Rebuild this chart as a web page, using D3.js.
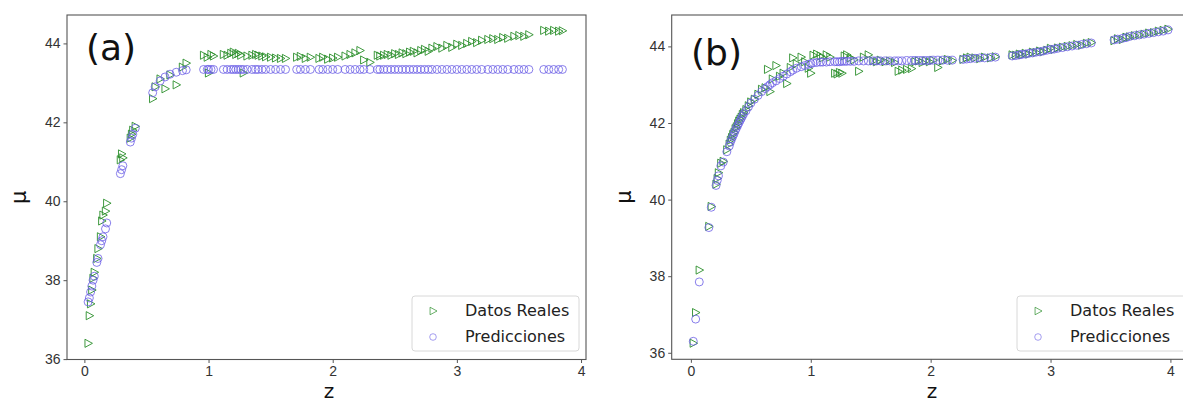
<!DOCTYPE html>
<html>
<head>
<meta charset="utf-8">
<script src="https://cdn.jsdelivr.net/npm/d3@7"></script>
<style>
  html, body { margin: 0; padding: 0; background: #fff; }
  svg { display: block; font-family: "DejaVu Sans", sans-serif; }
  .tick text { fill: #333; font-size: 14px; }
  .tick line { stroke: #555; }
</style>
</head>
<body>
<svg id="chart" width="1183" height="405"></svg>
<script>
// ---- Panel (a): redshift, observed distance modulus, model prediction ----
const zA = [
  0.03, 0.04, 0.05, 0.06, 0.07, 0.08, 0.10, 0.11, 0.13, 0.14, 0.15, 0.17, 0.18,
  0.29, 0.30, 0.31, 0.37, 0.38, 0.39, 0.41,
  0.55, 0.57, 0.61, 0.65, 0.69, 0.74, 0.79, 0.82,
  0.96, 0.99, 1.00, 1.02, 1.04,
  1.12, 1.15, 1.18, 1.20, 1.22, 1.24, 1.26, 1.28,
  1.31, 1.35, 1.38, 1.40, 1.43, 1.46, 1.50, 1.54, 1.58, 1.62,
  1.71, 1.74, 1.78, 1.82,
  1.89, 1.92, 1.96, 2.00, 2.04,
  2.10, 2.14, 2.18, 2.22, 2.25, 2.30,
  2.36, 2.38, 2.41, 2.44, 2.47, 2.50, 2.53, 2.56, 2.59, 2.62, 2.65, 2.68, 2.71, 2.74, 2.77, 2.80,
  2.84, 2.88, 2.92, 2.96, 3.00, 3.04, 3.08, 3.12, 3.16, 3.20,
  3.25, 3.29, 3.33, 3.37, 3.41, 3.46, 3.50, 3.54, 3.58,
  3.70, 3.74, 3.78, 3.82, 3.85
];
const realA = [
  36.40, 37.10, 37.40, 37.75, 38.05, 38.20, 38.55, 38.80, 39.10, 39.50, 39.65, 39.75, 39.95,
  41.05, 41.20, 41.10, 41.60, 41.70, 41.80, 41.90,
  42.60, 42.90, 43.10, 42.85, 43.20, 42.95, 43.40, 43.50,
  43.70, 43.65, 43.25, 43.72, 43.68,
  43.72, 43.70, 43.75, 43.78, 43.72, 43.75, 43.70, 43.25,
  43.68, 43.70, 43.72, 43.70, 43.68, 43.66, 43.65, 43.63, 43.62, 43.62,
  43.65, 43.67, 43.62, 43.65,
  43.62, 43.65, 43.60, 43.63, 43.65,
  43.68, 43.72, 43.76, 43.82, 43.58, 43.52,
  43.70, 43.68, 43.70, 43.72, 43.70, 43.74, 43.72, 43.76, 43.74, 43.78, 43.80, 43.76, 43.82, 43.85, 43.80, 43.88,
  43.92, 43.88, 43.95, 43.90, 43.98, 43.95, 44.00, 44.05, 44.02, 44.08,
  44.10, 44.12, 44.10, 44.15, 44.13, 44.18, 44.20, 44.18, 44.22,
  44.33, 44.31, 44.33, 44.31, 44.32
];
const predA = [
  37.45, 37.55, 37.70, 37.85, 38.00, 38.10, 38.45, 38.55, 38.90, 39.00, 39.10, 39.30, 39.45,
  40.70, 40.80, 40.90, 41.50, 41.60, 41.70, 41.85,
  42.75, 42.90, 43.05, 43.15, 43.22, 43.27, 43.31, 43.33,
  43.34, 43.34, 43.34, 43.34, 43.34,
  43.34, 43.34, 43.34, 43.34, 43.34, 43.34, 43.34, 43.34,
  43.34, 43.34, 43.34, 43.34, 43.34, 43.34, 43.34, 43.34, 43.34, 43.34,
  43.34, 43.34, 43.34, 43.34,
  43.34, 43.34, 43.34, 43.34, 43.34,
  43.34, 43.34, 43.34, 43.34, 43.34, 43.34,
  43.34, 43.34, 43.34, 43.34, 43.34, 43.34, 43.34, 43.34, 43.34, 43.34, 43.34, 43.34, 43.34, 43.34, 43.34, 43.34,
  43.34, 43.34, 43.34, 43.34, 43.34, 43.34, 43.34, 43.34, 43.34, 43.34,
  43.34, 43.34, 43.34, 43.34, 43.34, 43.34, 43.34, 43.34, 43.34,
  43.34, 43.34, 43.34, 43.34, 43.34
];

// ---- Panel (b) ----
const zB = [
  0.02, 0.04, 0.07, 0.15, 0.17,
  0.21, 0.22, 0.23, 0.25, 0.27,
  0.30, 0.32, 0.33, 0.34, 0.35, 0.36, 0.37, 0.38, 0.39, 0.40, 0.41, 0.42, 0.43, 0.44,
  0.46, 0.48, 0.50, 0.53, 0.56, 0.59, 0.62,
  0.64, 0.66, 0.68, 0.71, 0.74, 0.77, 0.80, 0.83, 0.85, 0.88,
  0.92, 0.95, 0.98, 1.00, 1.02, 1.05, 1.08,
  1.10, 1.13, 1.16, 1.20, 1.22, 1.24, 1.26, 1.28, 1.30, 1.33,
  1.36, 1.40, 1.44, 1.48, 1.52, 1.55, 1.58, 1.62, 1.66, 1.70,
  1.73, 1.76, 1.80, 1.84, 1.87, 1.90, 1.93, 1.96, 1.99, 2.02,
  2.06, 2.10, 2.14, 2.18,
  2.27, 2.30, 2.33, 2.37, 2.41, 2.45, 2.50, 2.54,
  2.68, 2.71, 2.74, 2.76, 2.79, 2.82, 2.85, 2.88, 2.91, 2.94,
  2.97, 3.00, 3.03, 3.06, 3.10, 3.14, 3.18, 3.22, 3.26, 3.30, 3.34,
  3.53, 3.56, 3.60, 3.63, 3.66, 3.70, 3.74, 3.78, 3.82, 3.86, 3.90, 3.94, 3.98
];
const realB = [
  36.25, 37.05, 38.16, 39.30, 39.82,
  40.40, 40.55, 40.70, 40.95, 41.00,
  41.30, 41.45, 41.55, 41.62, 41.70, 41.75, 41.85, 41.90, 41.98, 42.05, 42.10, 42.15, 42.22, 42.27,
  42.35, 42.45, 42.55, 42.62, 42.75, 42.88, 42.92,
  43.40, 42.82, 43.15, 43.50, 43.22, 43.30, 43.03, 43.45, 43.70, 43.55,
  43.72, 43.60, 43.43, 43.30, 43.77, 43.80, 43.75,
  43.70, 43.78, 43.72, 43.30, 43.28, 43.32, 43.30, 43.75, 43.78, 43.70,
  43.65, 43.35, 43.72, 43.78, 43.62, 43.60, 43.64, 43.60, 43.62, 43.58,
  43.35, 43.38, 43.40, 43.42, 43.60, 43.62, 43.58, 43.62, 43.60, 43.64,
  43.45, 43.62, 43.66, 43.63,
  43.66, 43.70, 43.72, 43.70, 43.68, 43.72, 43.70, 43.73,
  43.78, 43.77, 43.80, 43.78, 43.82, 43.80, 43.85, 43.84, 43.88, 43.86,
  43.90, 43.95, 43.92, 43.96, 43.98, 44.00, 44.02, 44.05, 44.03, 44.08, 44.10,
  44.15, 44.20, 44.18, 44.24, 44.25, 44.28, 44.30, 44.32, 44.35, 44.36, 44.40, 44.42, 44.45
];
const predB = [
  36.30, 36.88, 37.85, 39.27, 39.80,
  40.37, 40.50, 40.62, 40.88, 40.98,
  41.25, 41.40, 41.50, 41.58, 41.65, 41.72, 41.80, 41.87, 41.93, 42.00, 42.06, 42.12, 42.18, 42.24,
  42.32, 42.42, 42.52, 42.62, 42.72, 42.82, 42.90,
  42.95, 43.00, 43.05, 43.10, 43.16, 43.22, 43.28, 43.34, 43.38, 43.43,
  43.47, 43.50, 43.53, 43.55, 43.57, 43.58, 43.59,
  43.59, 43.59, 43.60, 43.60, 43.60, 43.60, 43.61, 43.61, 43.61, 43.61,
  43.61, 43.62, 43.62, 43.62, 43.62, 43.62, 43.62, 43.62, 43.62, 43.62,
  43.62, 43.62, 43.63, 43.63, 43.63, 43.63, 43.63, 43.63, 43.63, 43.64,
  43.64, 43.64, 43.64, 43.64,
  43.66, 43.67, 43.68, 43.69, 43.70, 43.70, 43.71, 43.72,
  43.75, 43.76, 43.78, 43.79, 43.80, 43.82, 43.83, 43.85, 43.86, 43.88,
  43.90, 43.92, 43.93, 43.95, 43.97, 43.99, 44.01, 44.03, 44.05, 44.07, 44.09,
  44.17, 44.19, 44.21, 44.23, 44.26, 44.28, 44.30, 44.32, 44.34, 44.36, 44.38, 44.40, 44.43
];

const xTicks = [0, 1, 2, 3, 4];
const yTicks = [36, 38, 40, 42, 44];
const seriesNames = ["Datos Reales", "Predicciones"];
const panelTags = ["(a)", "(b)"];

// ---- layout / style ----
const GREEN = "#2b8f2b";
const BLUE = "#6b5fe6";

const panels = [
  { tag: panelTags[0], z: zA, real: realA, pred: predA,
    left: 67, right: 586, top: 15, bottom: 359.5,
    xDom: [-0.14, 4.04], yDom: [35.99, 44.72],
    tagX: 86, tagY: 60, muX: 26, zLabelX: 329,
    legX: 412, legW: 167 },
  { tag: panelTags[1], z: zB, real: realB, pred: predB,
    left: 671.7, right: 1192, top: 15, bottom: 359.3,
    xDom: [-0.16, 4.18], yDom: [35.83, 44.82],
    tagX: 691, tagY: 65, muX: 631, zLabelX: 932,
    legX: 1017, legW: 175 }
];

const svg = d3.select("#chart");

// right-pointing triangle marker
function triPath(s) {
  const h = s * 0.58;
  return `M${-s * 0.45},${-h}L${s * 0.62},0L${-s * 0.45},${h}Z`;
}

panels.forEach(p => {
  const x = d3.scaleLinear().domain(p.xDom).range([p.left, p.right]);
  const y = d3.scaleLinear().domain(p.yDom).range([p.bottom, p.top]);
  const g = svg.append("g");

  // axes
  const xAxis = g.append("g")
    .attr("transform", `translate(0,${p.bottom})`)
    .call(d3.axisBottom(x).tickValues(xTicks).tickFormat(d3.format("d")).tickSize(3.5).tickPadding(3));
  const yAxis = g.append("g")
    .attr("transform", `translate(${p.left},0)`)
    .call(d3.axisLeft(y).tickValues(yTicks).tickFormat(d3.format("d")).tickSize(3.5).tickPadding(3));
  [xAxis, yAxis].forEach(a => a.select(".domain").remove());

  // data points: observations first, predictions on top
  const rows = p.z.map((zv, i) => ({ z: zv, real: p.real[i], pred: p.pred[i] }));
  g.append("g").selectAll("path").data(rows).join("path")
    .attr("d", triPath(7))
    .attr("transform", d => `translate(${x(d.z)},${y(d.real)})`)
    .attr("fill", "none")
    .attr("stroke", GREEN)
    .attr("stroke-width", 1)
    .attr("stroke-opacity", 0.9);
  g.append("g").selectAll("circle").data(rows).join("circle")
    .attr("cx", d => x(d.z))
    .attr("cy", d => y(d.pred))
    .attr("r", 4)
    .attr("fill", "none")
    .attr("stroke", BLUE)
    .attr("stroke-width", 1)
    .attr("stroke-opacity", 0.8);

  // frame
  g.append("rect")
    .attr("x", p.left).attr("y", p.top)
    .attr("width", p.right - p.left).attr("height", p.bottom - p.top)
    .attr("fill", "none").attr("stroke", "#555").attr("stroke-width", 1.1);

  // panel tag
  g.append("text")
    .attr("x", p.tagX).attr("y", p.tagY)
    .attr("font-size", 36).attr("fill", "#111")
    .text(p.tag);

  // axis labels
  g.append("text")
    .attr("x", p.zLabelX).attr("y", 398)
    .attr("text-anchor", "middle")
    .attr("font-size", 20).attr("fill", "#111")
    .text("z");
  g.append("text")
    .attr("transform", `translate(${p.muX},${(p.top + p.bottom) / 2 + 10}) rotate(-90)`)
    .attr("text-anchor", "middle")
    .attr("font-size", 21).attr("fill", "#111")
    .text("μ");

  // legend
  const lg = g.append("g").attr("transform", `translate(${p.legX},296)`);
  lg.append("rect")
    .attr("width", p.legW).attr("height", 55)
    .attr("rx", 3)
    .attr("fill", "#fff").attr("fill-opacity", 0.85)
    .attr("stroke", "#d8d8d8");
  lg.append("path")
    .attr("d", triPath(6.5))
    .attr("transform", "translate(21,15)")
    .attr("fill", "none").attr("stroke", GREEN).attr("stroke-opacity", 0.7);
  lg.append("circle")
    .attr("cx", 21).attr("cy", 41).attr("r", 3.3)
    .attr("fill", "none").attr("stroke", BLUE).attr("stroke-opacity", 0.6);
  lg.selectAll("text.lab").data(seriesNames).join("text")
    .attr("class", "lab")
    .attr("x", 53).attr("y", (d, i) => 20 + i * 26)
    .attr("font-size", 16).attr("fill", "#222")
    .text(d => d);
});
</script>
</body>
</html>
